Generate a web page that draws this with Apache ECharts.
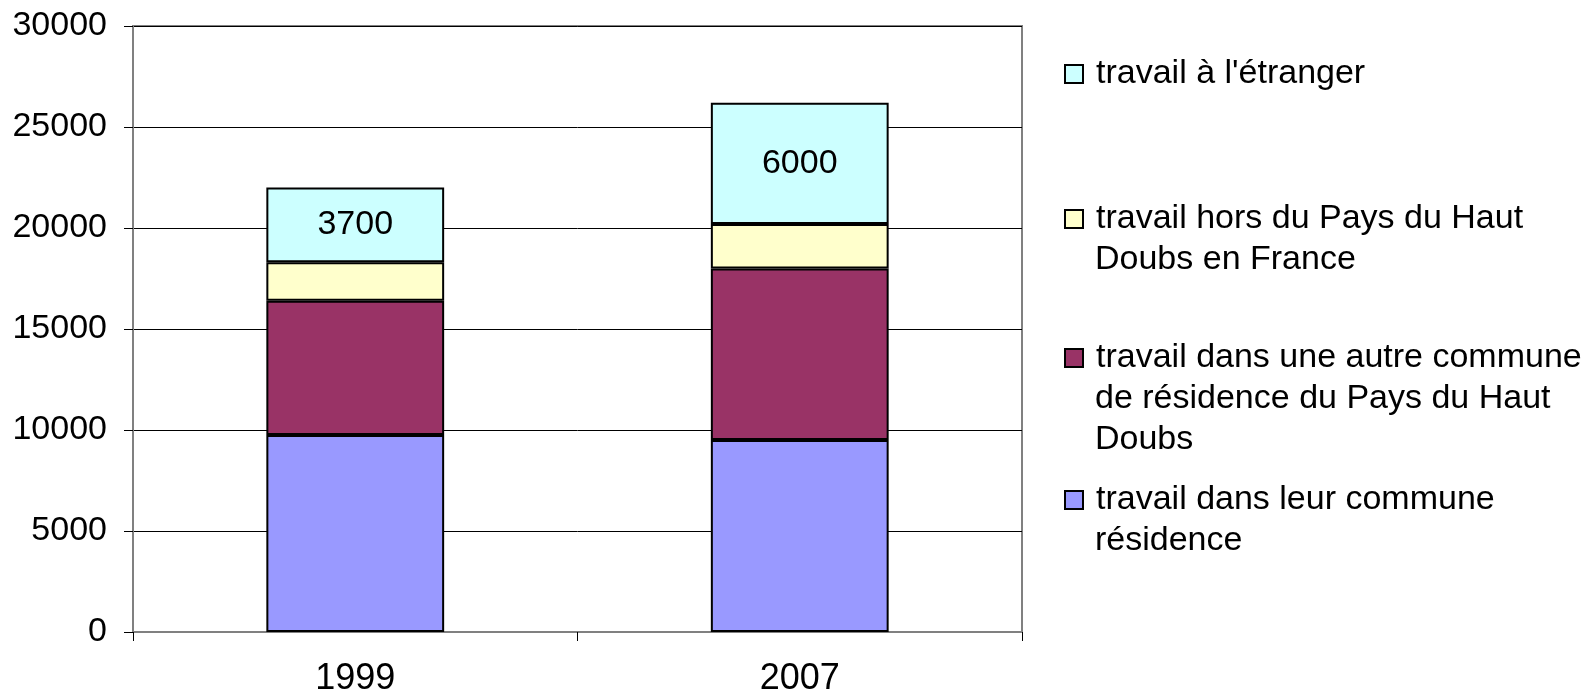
<!DOCTYPE html>
<html>
<head>
<meta charset="utf-8">
<script src="https://cdn.jsdelivr.net/npm/echarts@6/dist/echarts.min.js"></script>
<style>
html,body{margin:0;padding:0;background:#fff;}
#chart{width:1596px;height:698px;}
</style>
</head>
<body>
<div id="chart"></div>
<script>
// ---- data ----
const categories = ['1999', '2007'];
const seriesNames = [
  "travail dans leur commune résidence",
  "travail dans une autre commune de résidence du Pays du Haut Doubs",
  "travail hors du Pays du Haut Doubs en France",
  "travail à l'étranger"
];
const legendLabels = [
  "travail dans leur commune\nrésidence",
  "travail dans une autre commune\nde résidence du Pays du Haut\nDoubs",
  "travail hors du Pays du Haut\nDoubs en France",
  "travail à l'étranger"
];
const leurCommune = [9750, 9500];
const autreCommune = [6650, 8500];
const horsPays = [1900, 2200];
const etranger = [3700, 6000];
const yTicks = [0, 5000, 10000, 15000, 20000, 25000, 30000];

// ---- styling ----
const colors = ['#9999FF', '#993366', '#FFFFCC', '#CCFFFF'];
const FONT = "'Liberation Sans', Arial, sans-serif";
const FS = 34;
const FSX = 36;
const LH = 41;
const values = [leurCommune, autreCommune, horsPays, etranger];

const series = seriesNames.map((name, i) => ({
  name: name,
  type: 'bar',
  stack: 'total',
  barWidth: '40%',
  data: values[i],
  itemStyle: { color: colors[i], borderColor: '#000', borderWidth: 2 },
  label: i === 3 ? {
    show: true, position: 'inside', color: '#000',
    fontFamily: FONT, fontSize: FS
  } : { show: false },
  emphasis: { disabled: true }
}));

// legends, top to bottom: étranger, hors, autre, leur
const legendOrder = [3, 2, 1, 0];
const legendCenters = [74, 219, 358, 500];
const legends = [];
legendOrder.forEach((si, k) => {
  const lines = legendLabels[si].split('\n');
  const top0 = legendCenters[k] - LH / 2;
  const base = {
    show: true,
    orient: 'vertical',
    left: 1064,
    padding: 0,
    itemWidth: 18,
    itemHeight: 18,
    selectedMode: false,
    data: [seriesNames[si]],
    itemStyle: { borderColor: '#000', borderWidth: 2 },
    textStyle: {
      fontFamily: FONT, fontSize: FS, color: '#000',
      lineHeight: LH,
      padding: [0, 0, 0, 8]
    }
  };
  legends.push(Object.assign({}, base, {
    top: top0,
    icon: 'rect',
    formatter: () => lines[0]
  }));
  if (lines.length > 1) {
    legends.push(Object.assign({}, base, {
      top: top0 + LH,
      icon: 'none',
      formatter: () => lines.slice(1).join('\n')
    }));
  }
});

const chart = echarts.init(document.getElementById('chart'), null, { renderer: 'canvas' });
chart.setOption({
  animation: false,
  backgroundColor: '#fff',
  grid: {
    left: 133, right: 574, top: 26, bottom: 66,
    show: true, borderColor: '#808080', borderWidth: 2, backgroundColor: 'transparent'
  },
  legend: legends,
  xAxis: {
    type: 'category',
    data: categories,
    boundaryGap: true,
    axisLine: { show: true, lineStyle: { color: '#808080', width: 2 } },
    axisTick: { show: true, alignWithLabel: false, length: 9, lineStyle: { color: '#000', width: 1 } },
    axisLabel: { color: '#000', fontFamily: FONT, fontSize: FSX, margin: 29 },
    splitLine: { show: false }
  },
  yAxis: {
    type: 'value',
    min: yTicks[0],
    max: yTicks[yTicks.length - 1],
    interval: yTicks[1] - yTicks[0],
    axisLine: { show: true, lineStyle: { color: '#808080', width: 2 } },
    axisTick: { show: true, length: 9, lineStyle: { color: '#000', width: 1 } },
    axisLabel: { color: '#000', fontFamily: FONT, fontSize: FS, margin: 26, formatter: v => String(v) },
    splitLine: { show: true, lineStyle: { color: '#000', width: 1 } }
  },
  series: series
});
</script>
</body>
</html>
